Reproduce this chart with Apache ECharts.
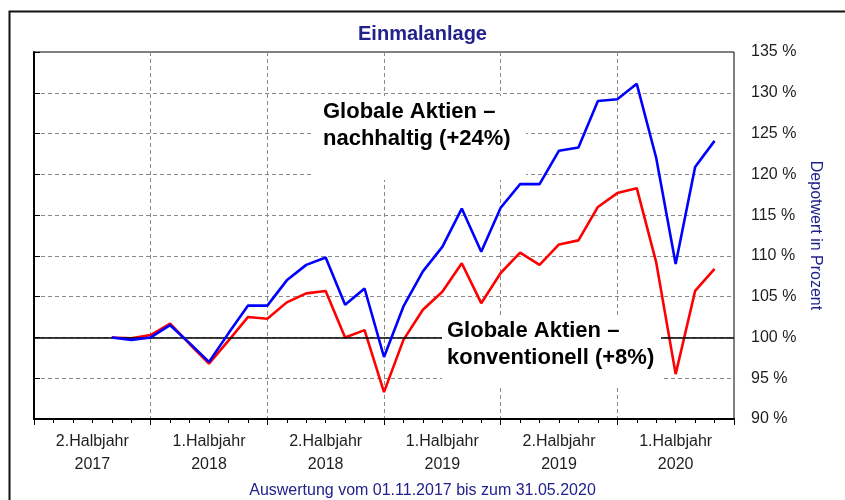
<!DOCTYPE html>
<html>
<head>
<meta charset="utf-8">
<script src="https://cdn.jsdelivr.net/npm/echarts@6/dist/echarts.min.js"></script>
<style>
html,body{margin:0;padding:0;background:#fff;}
#c{width:845px;height:500px;}
</style>
</head>
<body>
<div id="c"></div>
<script>
// ---- data ----
const dates = ['2017-11','2017-12','2018-01','2018-02','2018-03','2018-04','2018-05','2018-06',
  '2018-07','2018-08','2018-09','2018-10','2018-11','2018-12','2019-01','2019-02','2019-03',
  '2019-04','2019-05','2019-06','2019-07','2019-08','2019-09','2019-10','2019-11','2019-12',
  '2020-01','2020-02','2020-03','2020-04','2020-05','2020-06'];
const nachhaltig = [100, 99.7, 100.0, 101.5, 99.3, 97.0, 100.5, 103.9, 103.9, 107.0,
  108.9, 109.8, 104.0, 106.0, 97.6, 103.8, 108.1, 111.1, 115.8, 110.5,
  115.9, 118.8, 118.8, 122.9, 123.3, 129.0, 129.2, 131.1, 122.0, 109.0, 120.9, 124.1];
const konventionell = [100, 99.9, 100.3, 101.7, 99.2, 96.8, 99.6, 102.5, 102.3, 104.3,
  105.4, 105.7, 100.0, 100.9, 93.3, 99.7, 103.4, 105.6, 109.1, 104.2,
  107.9, 110.4, 108.9, 111.4, 111.9, 116.0, 117.7, 118.3, 109.2, 95.5, 105.7, 108.4];
const halfYearLabels = ['2.Halbjahr\n2017','1.Halbjahr\n2018','2.Halbjahr\n2018',
  '1.Halbjahr\n2019','2.Halbjahr\n2019','1.Halbjahr\n2020'];
const axisStart = '2017-07';
const axisMonths = 36;
const yMin = 90, yMax = 135, yStep = 5, baseline = 100;

function monthIndex(s){
  const [y0,m0] = axisStart.split('-').map(Number);
  const [y,m] = s.split('-').map(Number);
  return (y - y0) * 12 + (m - m0);
}

const FONT = "'Liberation Sans', Arial, sans-serif";
const NAVY = '#22228c';
const GRID = '#8a8a8a';

const chart = echarts.init(document.getElementById('c'), null, {renderer:'canvas'});
chart.setOption({
  animation: false,
  backgroundColor: '#fff',
  title: {
    text: 'Einmalanlage', left: 'center', top: 19,
    textStyle: {fontFamily: FONT, fontSize: 20, fontWeight: 'bold', color: NAVY}
  },
  grid: {left: 34, top: 52, right: 111, bottom: 81, show: true, borderColor: '#000', borderWidth: 1},
  xAxis: [{
    type: 'value', min: 0, max: axisMonths, interval: 6, position: 'bottom',
    axisLine: {show: true, lineStyle: {color: '#000', width: 2}},
    axisTick: {show: true, length: 6, inside: false, lineStyle: {color: '#000', width: 1}},
    minorTick: {show: true, splitNumber: 6, length: 4, lineStyle: {color: '#000', width: 1}},
    axisLabel: {show: false},
    splitLine: {show: true, showMinLine: false, showMaxLine: false,
      lineStyle: {color: GRID, type: [4,3], width: 1}}
  }, {
    type: 'category', data: halfYearLabels, position: 'bottom', boundaryGap: true,
    axisLine: {show: false}, axisTick: {show: false}, splitLine: {show: false},
    axisLabel: {fontFamily: FONT, fontSize: 16, lineHeight: 23, color: '#1e1e1e', margin: 11}
  }],
  yAxis: {
    type: 'value', min: yMin, max: yMax, interval: yStep, position: 'right',
    name: 'Depotwert in Prozent', nameLocation: 'middle', nameRotate: -90, nameGap: 71,
    nameTextStyle: {fontFamily: FONT, fontSize: 16, color: NAVY},
    axisLine: {show: true, lineStyle: {color: '#000', width: 2}},
    axisTick: {show: true, length: 6, inside: false, lineStyle: {color: '#000', width: 1}},
    axisLabel: {fontFamily: FONT, fontSize: 16, color: '#1e1e1e', margin: 17,
      formatter: v => v + ' %'},
    splitLine: {show: true, showMinLine: false, showMaxLine: false,
      lineStyle: {color: GRID, type: [4,3], width: 1}}
  },
  series: [{
    name: 'Globale Aktien – nachhaltig', type: 'line', xAxisIndex: 0,
    data: dates.map((d,i) => [monthIndex(d), nachhaltig[i]]),
    showSymbol: false, symbol: 'none',
    lineStyle: {color: '#0000ff', width: 2.6}, z: 5,
    markLine: {
      silent: true, symbol: 'none', label: {show: false},
      lineStyle: {color: '#000', type: 'solid', width: 1.5},
      data: [{yAxis: baseline}]
    }
  }, {
    name: 'Globale Aktien – konventionell', type: 'line', xAxisIndex: 0,
    data: dates.map((d,i) => [monthIndex(d), konventionell[i]]),
    showSymbol: false, symbol: 'none',
    lineStyle: {color: '#ff0000', width: 2.6}, z: 4
  }],
  graphic: {elements: [
    {type: 'rect', left: 7, top: 9, z: 100, silent: true,
      shape: {width: 860, height: 520},
      style: {fill: 'none', stroke: '#111', lineWidth: 2}},
    {type: 'rect', left: 312, top: 96, z: 50, silent: true,
      shape: {width: 214, height: 84}, style: {fill: '#fff'}},
    {type: 'text', left: 323, top: 98, z: 51,
      style: {text: 'Globale Aktien –\nnachhaltig (+24%)', fill: '#000',
        font: "bold 22px 'Liberation Sans', Arial, sans-serif", lineHeight: 27}},
    {type: 'rect', left: 442, top: 315, z: 50, silent: true,
      shape: {width: 219, height: 73}, style: {fill: '#fff'}},
    {type: 'text', left: 447, top: 317, z: 51,
      style: {text: 'Globale Aktien –\nkonventionell (+8%)', fill: '#000',
        font: "bold 22px 'Liberation Sans', Arial, sans-serif", lineHeight: 27}},
    {type: 'text', left: 'center', top: 483, z: 51,
      style: {text: 'Auswertung vom 01.11.2017 bis zum 31.05.2020', fill: NAVY,
        font: "16px 'Liberation Sans', Arial, sans-serif"}}
  ]}
});
</script>
</body>
</html>
